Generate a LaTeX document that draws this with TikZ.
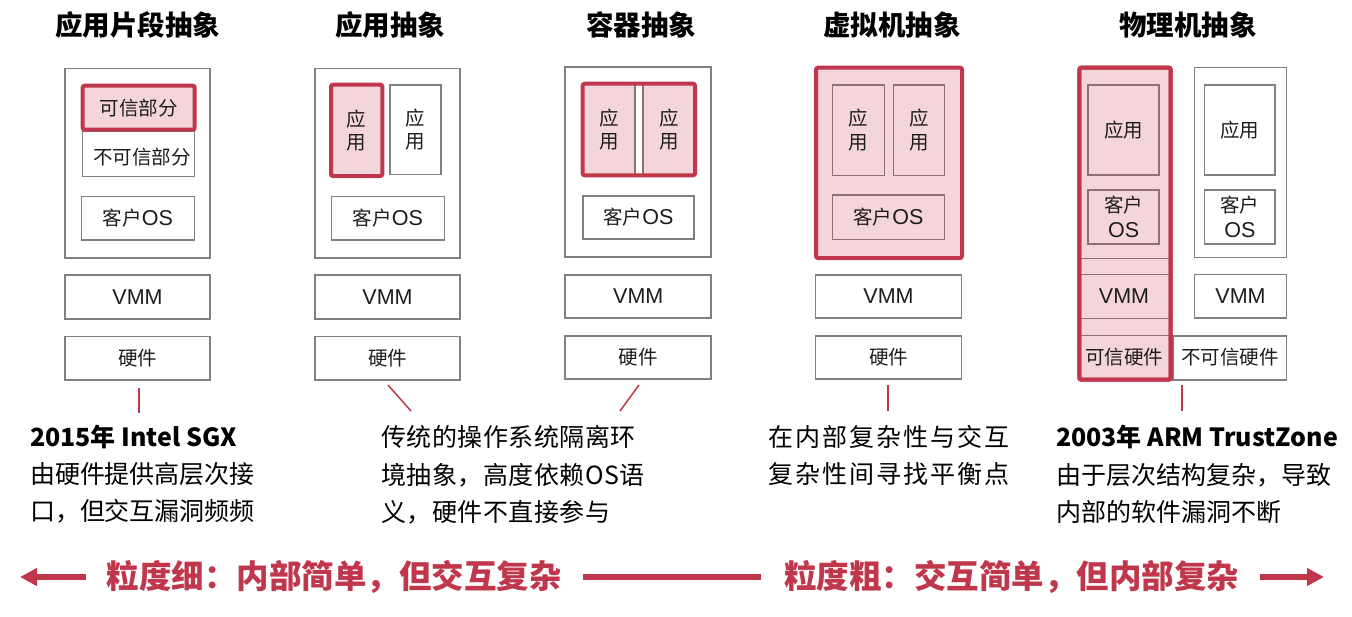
\documentclass[tikz,border=0pt]{standalone}
\usepackage{fontspec}
\setmainfont{Noto Sans CJK SC}
\newfontfamily\lat{Liberation Sans}
\newcommand\LT[1]{{\lat\fontsize{21.5}{25}\selectfont #1}}
\usetikzlibrary{arrows.meta}
\definecolor{redc}{RGB}{192,55,75}
\definecolor{pinkc}{RGB}{244,214,218}
\definecolor{boxgray}{RGB}{128,128,128}
\definecolor{mauve}{RGB}{140,112,117}
\definecolor{txt}{RGB}{28,28,28}
\begin{document}
\begin{tikzpicture}[x=1pt,y=-1pt,
  every node/.style={inner sep=0pt, outer sep=0pt},
  sz/.style 2 args={minimum width=#1, minimum height=#2},
  lbl/.style={font=\fontsize{19.5}{23.5}\selectfont, text=txt, align=center},
  gbox/.style={draw=boxgray, line width=1.8pt, fill=white, lbl},
  mbox/.style={draw=mauve, line width=1.8pt, fill=pinkc, lbl},
  rbox/.style={draw=redc, line width=4pt, fill=pinkc, rounded corners=2pt, lbl},
  rline/.style={draw=redc, line width=4pt, rounded corners=2pt},
  mline/.style={draw=mauve, line width=1.8pt},
  titletext/.style={font=\fontsize{27.5}{30}\selectfont\bfseries, text=black},
  desc/.style={font=\fontsize{25}{30}\selectfont, text=black, anchor=west},
  descb/.style={desc, font=\fontsize{25}{30}\selectfont\bfseries},
  bigtext/.style={font=\fontsize{32.5}{36}\selectfont\bfseries, text=redc},
  conn/.style={draw=redc, line width=1.5pt},
  bigline/.style={draw=redc, line width=6.5pt},
  bigarrow/.style={draw=redc, line width=6.5pt, -{Triangle[length=17pt,width=17pt]}}
]
\useasboundingbox (0,0) rectangle (1352,616);

% titles
\node[titletext] (t1) at (137.5,25) {应用片段抽象};
\node[titletext] (t2) at (390,25) {应用抽象};
\node[titletext] (t3) at (641,25) {容器抽象};
\node[titletext] (t4) at (892,25) {虚拟机抽象};
\node[titletext] (t5) at (1188,25) {物理机抽象};

% column 1
\node[gbox, sz={145pt}{189.5pt}] (out1) at (137.5,163.25) {};
\node[gbox, sz={112pt}{45.5pt}] (unt1) at (138.5,153.75) {};
\node[lbl] (unt1t) at (142,157) {不可信部分};
\node[rbox, sz={112pt}{44pt}] (tr1) at (138.7,107.7) {可信部分};
\node[gbox, sz={113pt}{43.5pt}] (os1) at (138,218.25) {客户\LT{OS}};
\node[gbox, sz={145pt}{44pt}] (vmm1) at (137.5,297) {\LT{VMM}};
\node[gbox, sz={145pt}{43.5pt}] (hw1) at (137.5,358.25) {硬件};

% column 2
\node[gbox, sz={145pt}{189.5pt}] (out2) at (387.5,163.25) {};
\node[rbox, sz={51.3pt}{91.3pt}] (app2a) at (356.65,130.35) {应\\用};
\node[gbox, sz={50.7pt}{89.8pt}] (app2b) at (415.65,129.6) {应\\用};
\node[gbox, sz={113pt}{43.5pt}] (os2) at (388,218.25) {客户\LT{OS}};
\node[gbox, sz={145pt}{44pt}] (vmm2) at (387.5,297) {\LT{VMM}};
\node[gbox, sz={145pt}{43.5pt}] (hw2) at (387.5,358.25) {硬件};

% column 3
\node[gbox, sz={146pt}{190pt}] (out3) at (638.3,162.3) {};
\node[mbox, sz={52.3pt}{91.6pt}] (app3a) at (608.85,129.5) {应\\用};
\node[mbox, sz={52.3pt}{91.6pt}] (app3b) at (668.85,129.5) {应\\用};
\node[rline, sz={112.3pt}{91.6pt}] (red3) at (638.85,129.5) {};
\node[gbox, sz={111.6pt}{43.3pt}] (os3) at (638.5,217.35) {客户\LT{OS}};
\node[gbox, sz={146pt}{43.3pt}] (vmm3) at (638.3,296.35) {\LT{VMM}};
\node[gbox, sz={146pt}{43.3pt}] (hw3) at (638.3,357.35) {硬件};

% column 4
\node[rbox, sz={146pt}{190.3pt}] (red4) at (889,162.85) {};
\node[mbox, sz={52pt}{90.5pt}] (app4a) at (858.5,130.25) {应\\用};
\node[mbox, sz={51pt}{90.5pt}] (app4b) at (919,130.25) {应\\用};
\node[mbox, sz={112pt}{44.5pt}] (os4) at (888.5,217.25) {客户\LT{OS}};
\node[gbox, sz={146pt}{43.3pt}] (vmm4) at (888.5,296.35) {\LT{VMM}};
\node[gbox, sz={146pt}{43.3pt}] (hw4) at (888.5,357.35) {硬件};

% column 5
\node[gbox, sz={113.8pt}{44.6pt}] (hw5b) at (1229.6,358) {};
\node[lbl] (hw5bt) at (1230,357.5) {不可信硬件};
\node[rbox, sz={91.4pt}{312pt}] (red5) at (1125,223.7) {};
\node[mbox, sz={71.3pt}{90.3pt}] (app5a) at (1123.65,130.15) {应用};
\node[mbox, sz={71.3pt}{54.3pt}, font=\fontsize{19.5}{25}\selectfont] (os5a) at (1123.65,217.15) {客户\\\LT{OS}};
\draw[mline] (red5.west |- 0,258.5) -- (red5.east |- 0,258.5);
\draw[mline] (red5.west |- 0,274.5) -- (red5.east |- 0,274.5);
\draw[mline] (red5.west |- 0,318.5) -- (red5.east |- 0,318.5);
\draw[mline] (red5.west |- 0,335.5) -- (red5.east |- 0,335.5);
\node[rline, sz={91.4pt}{312pt}] (red5b) at (1125,223.7) {};
\node[lbl] (vmm5a) at (1124,296.5) {\LT{VMM}};
\node[lbl] (hw5a) at (1124,357.5) {可信硬件};
\node[gbox, sz={92pt}{190pt}] (out5b) at (1240.5,162.5) {};
\node[gbox, sz={70.8pt}{90.3pt}] (app5b) at (1239.9,130.15) {应用};
\node[gbox, sz={70.8pt}{54.3pt}, font=\fontsize{19.5}{25}\selectfont] (os5b) at (1239.9,217.15) {客户\\\LT{OS}};
\node[gbox, sz={92pt}{43.5pt}] (vmm5b) at (1240.5,296.25) {\LT{VMM}};

% connectors
\coordinate (c1a) at (139,388); \coordinate (c1b) at (139,413);
\coordinate (c2a) at (388,385); \coordinate (c2b) at (411,411);
\coordinate (c3a) at (639,385); \coordinate (c3b) at (620,411);
\coordinate (c4a) at (888,385); \coordinate (c4b) at (888,411);
\coordinate (c5a) at (1182,385); \coordinate (c5b) at (1182,411);
\draw[conn] (c1a) -- (c1b);
\draw[conn] (c2a) -- (c2b);
\draw[conn] (c3a) -- (c3b);
\draw[conn] (c4a) -- (c4b);
\draw[conn] (c5a) -- (c5b);

% descriptions
\node[descb] (d1a) at (30,437) {2015年 Intel SGX};
\node[desc] (d1b) at (30,474) {由硬件提供高层次接};
\node[desc] (d1c) at (30,511) {口，但交互漏洞频频};
\node[desc] (d2a) at (381,437) {\addfontfeature{LetterSpace=2}传统的操作系统隔离环};
\node[desc] (d2b) at (381,475) {\addfontfeature{LetterSpace=2}境抽象，高度依赖OS语};
\node[desc] (d2c) at (381,512) {\addfontfeature{LetterSpace=2}义，硬件不直接参与};
\node[desc] (d4a) at (768,437) {\addfontfeature{LetterSpace=8}在内部复杂性与交互};
\node[desc] (d4b) at (768,474) {\addfontfeature{LetterSpace=8}复杂性间寻找平衡点};
\node[descb] (d5a) at (1056,437) {2003年 ARM TrustZone};
\node[desc] (d5b) at (1056,475) {由于层次结构复杂，导致};
\node[desc] (d5c) at (1056,512) {内部的软件漏洞不断};

% bottom scale
\node[bigtext] (b1) at (334,577) {粒度细：内部简单，但交互复杂};
\node[bigtext] (b2) at (1011.5,577) {粒度粗：交互简单，但内部复杂};
\coordinate (la1) at (86,577); \coordinate (la2) at (20,577);
\coordinate (m1) at (582.6,577); \coordinate (m2) at (761,577);
\coordinate (ra1) at (1260,577); \coordinate (ra2) at (1324,577);
\draw[bigarrow] (la1) -- (la2);
\draw[bigline] (m1) -- (m2);
\draw[bigarrow] (ra1) -- (ra2);
\end{tikzpicture}
\end{document}
